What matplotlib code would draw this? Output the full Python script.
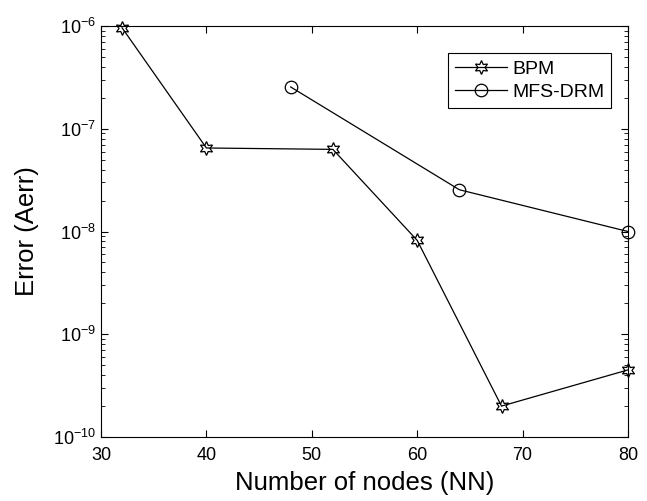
import numpy as np
import matplotlib.pyplot as plt
from matplotlib.ticker import FixedLocator, NullFormatter, LogFormatterSciNotation

plt.rcParams['font.family'] = ['Liberation Sans', 'DejaVu Sans']
plt.rcParams['mathtext.fontset'] = 'custom'
plt.rcParams['mathtext.rm'] = 'Liberation Sans'

# data
bpm_nn  = [32, 40, 52, 60, 68, 80]
bpm_err = [9.6e-7, 6.5e-8, 6.3e-8, 8.2e-9, 2.0e-10, 4.5e-10]

mfs_nn  = [48, 64, 80]
mfs_err = [2.55e-7, 2.55e-8, 1.0e-8]

x_ticks = [30, 40, 50, 60, 70, 80]
y_decades = [-10, -9, -8, -7, -6]

fig = plt.figure(figsize=(6.47, 5.01), dpi=100)
ax = fig.add_axes([0.1561, 0.1277, 0.8145, 0.8204])

hexagram = (6, 1, 0)
ax.plot(bpm_nn, bpm_err, color='k', lw=0.9, marker=hexagram, ms=10,
        mfc='none', mec='k', mew=0.9, label='BPM', clip_on=False)
ax.plot(mfs_nn, mfs_err, color='k', lw=0.9, marker='o', ms=9,
        mfc='none', mec='k', mew=0.9, label='MFS-DRM', clip_on=False)

ax.set_yscale('log')
ax.set_xlim(30, 80)
ax.set_ylim(1e-10, 1e-6)
ax.set_xticks(x_ticks)

major_y = [10.0 ** d for d in y_decades]
minor_y = [m * 10.0 ** d for d in y_decades[:-1] for m in range(2, 10)]
ax.yaxis.set_major_locator(FixedLocator(major_y))
ax.yaxis.set_major_formatter(LogFormatterSciNotation())
ax.yaxis.set_minor_locator(FixedLocator(minor_y))
ax.yaxis.set_minor_formatter(NullFormatter())

ax.tick_params(which='both', direction='in', top=True, right=True,
               labelsize=13, colors='k')
ax.tick_params(which='major', length=5, width=0.8)
ax.tick_params(which='minor', length=3, width=0.6)
ax.tick_params(axis='x', pad=7)
for s in ax.spines.values():
    s.set_linewidth(0.8)

ax.set_xlabel('Number of nodes (NN)', fontsize=18.5, labelpad=5)
ax.set_ylabel('Error (Aerr)', fontsize=18.5, labelpad=10)

leg = ax.legend(loc='upper right', bbox_to_anchor=(0.968, 0.934),
                borderaxespad=0, fontsize=14, handlelength=2.7,
                handletextpad=0.25, fancybox=False, framealpha=1,
                edgecolor='k', borderpad=0.35, labelspacing=0.3)
leg.get_frame().set_linewidth(0.8)

fig.savefig('out.png', dpi=100)
